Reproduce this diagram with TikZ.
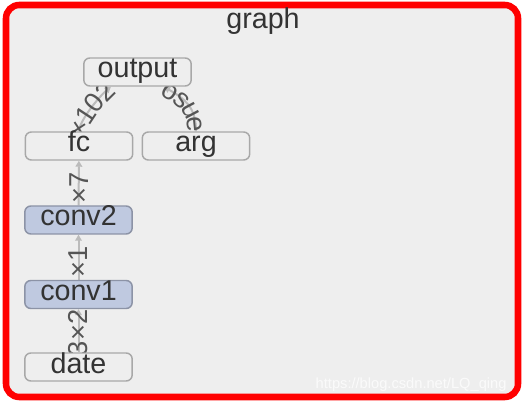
\documentclass[tikz,border=0pt]{standalone}
\usepackage{fontspec}
\setmainfont{Liberation Sans}
\usetikzlibrary{arrows.meta,decorations.text}

\definecolor{panelbg}{HTML}{EEEEEE}
\definecolor{framered}{HTML}{FF0000}
\definecolor{nodeline}{HTML}{A8A8A8}
\definecolor{opfill}{HTML}{BFC9E0}
\definecolor{opline}{HTML}{8C93A6}
\definecolor{edgegray}{HTML}{BBBBBB}
\definecolor{txtgray}{HTML}{333333}
\definecolor{lblgray}{HTML}{555555}
\newcommand{\nodefont}{\fontsize{21.5}{23}\selectfont}
\newcommand{\edgefont}{\fontsize{20.5}{22}\selectfont}
\pgfdeclarelayer{bg}
\pgfsetlayers{bg,main}

\begin{document}
\begin{tikzpicture}[x=0.75pt,y=0.75pt,
  nd/.style={draw=nodeline,line width=1.1pt,rounded corners=4.5pt,fill=panelbg,
    minimum width=80.5pt,minimum height=21pt,inner sep=0pt,
    text height=14pt,text depth=5pt,text=txtgray,font=\nodefont},
  op/.style={nd,draw=opline,fill=opfill},
  edge/.style={draw=edgegray,line width=1.5pt,-{Triangle[length=4.5pt,width=5pt]}},
  lbl/.style={text=lblgray,font=\edgefont,inner sep=0pt},
  curvelbl/.style 2 args={decorate,decoration={text along path,text={|\edgefont|#1},
    text color=lblgray,text align=#2,raise=-6.5pt}}
]
\useasboundingbox (0,0) rectangle (525,404);
\begin{pgfonlayer}{bg}
  \fill[white] (0,0) rectangle (525,404);
  \draw[framered,line width=4.9pt,fill=panelbg,rounded corners=10pt] (6,7) rectangle (518,399);
\end{pgfonlayer}
\node[anchor=base,text=txtgray,font=\nodefont] (title) at (263,375) {graph};

% nodes
\node[nd] (output) at (137.5,332) {output};
\node[nd] (fc) at (79,258) {fc};
\node[nd] (arg) at (196,258) {arg};
\node[op] (conv2) at (78.5,184) {conv2};
\node[op] (conv1) at (78.5,109.5) {conv1};
\node[nd] (date) at (78.5,37) {date};

% edges
\begin{pgfonlayer}{bg}
  \draw[edge] (date) -- node[lbl,rotate=90,pos=0.45]{3×2} (conv1);
  \draw[edge] (conv1) -- node[lbl,rotate=90,pos=0.4]{×1} (conv2);
  \draw[edge] (conv2) -- node[lbl,rotate=90,pos=0.4]{×7} (fc);
  \draw[edge] (fc.north) .. controls +(0,10) and +(-12,-10) .. (output.209);
  \draw[edge] (arg.north) .. controls +(0,25) and +(20,-12) .. (output.331);
  \path[curvelbl={×102}{right}] (fc.north) .. controls +(0,10) and +(-12,-10) .. (output.209);
  \path[curvelbl={osue}{left}] (output.331) .. controls +(20,-12) and +(0,25) .. (arg.north);
\end{pgfonlayer}

\node[anchor=base west,text=white,opacity=0.75,font=\fontsize{11}{12}\selectfont] (mark) at (311,16) {https://blog.csdn.net/LQ\_qing};
\end{tikzpicture}
\end{document}
